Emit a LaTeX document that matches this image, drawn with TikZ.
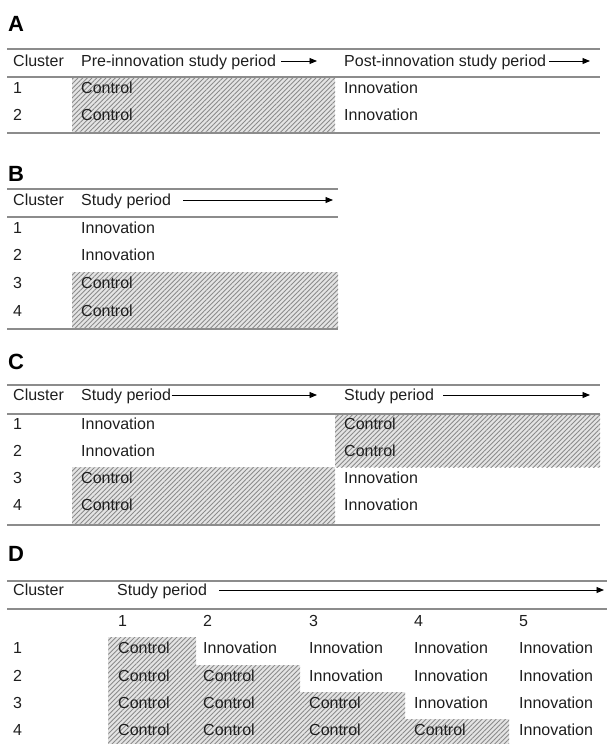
\documentclass[tikz,border=0pt]{standalone}
\usepackage{fontspec}
\setmainfont{Liberation Sans}
\usetikzlibrary{patterns.meta,arrows.meta}

\definecolor{rulegray}{HTML}{8C8C8C}
\definecolor{hatchbg}{HTML}{E4E4E4}
\definecolor{hatchline}{HTML}{8A8A8A}
\definecolor{ink}{HTML}{1E1E1E}

\tikzset{
  rulel/.style={draw=rulegray, line width=1.4pt},
  hatched/.style={preaction={fill=hatchbg},
    pattern={Lines[angle=45, distance=3.3pt, line width=0.9pt]},
    pattern color=hatchline},
  txt/.style={anchor=base west, inner sep=0pt, yshift=-5.6pt,
    font=\fontsize{16}{19}\selectfont, text=ink},
  paneltitle/.style={anchor=base west, inner sep=0pt, yshift=-7.8pt,
    font=\fontsize{22}{25}\selectfont\bfseries, text=black},
  timearrow/.style={draw=black, line width=0.9pt,
    -{Triangle[length=7.5pt, width=6pt]}}
}

\begin{document}
\begin{tikzpicture}[x=1pt, y=-1pt]
\useasboundingbox (0,0) rectangle (607,744);

% ---------------- Panel A: before/after design ----------------
\node[paneltitle] (tA) at (8,24) {A};
\path[hatched] (72,77) rectangle (335,133);
\draw[rulel] (7,49) -- (600,49);
\draw[rulel] (7,77) -- (600,77);
\draw[rulel] (7,133) -- (600,133);
\node[txt] (cA) at (13,61) {Cluster};
\node[txt] (preA) at (81,61) {Pre-innovation study period};
\node[txt] (postA) at (344,61) {Post-innovation study period};
\coordinate (sA1) at ([xshift=5pt]preA.east);
\coordinate (eA1) at (317,61);
\draw[timearrow] (sA1 |- eA1) -- (eA1);
\coordinate (sA2) at ([xshift=3pt]postA.east);
\coordinate (eA2) at (590,61);
\draw[timearrow] (sA2 |- eA2) -- (eA2);
\node[txt] (nA1) at (13,88) {1};
\node[txt] (nA2) at (13,115) {2};
\node[txt] (ctA1) at (81,88) {Control};
\node[txt] (ctA2) at (81,115) {Control};
\node[txt] (inA1) at (344,88) {Innovation};
\node[txt] (inA2) at (344,115) {Innovation};

% ---------------- Panel B: parallel groups ----------------
\node[paneltitle] (tB) at (8,174) {B};
\path[hatched] (72,272) rectangle (338,329);
\draw[rulel] (7,189) -- (338,189);
\draw[rulel] (7,217) -- (338,217);
\draw[rulel] (7,329) -- (338,329);
\node[txt] (cB) at (13,200) {Cluster};
\node[txt] (spB) at (81,200) {Study period};
\coordinate (sB) at ([xshift=12pt]spB.east);
\coordinate (eB) at (333,200);
\draw[timearrow] (sB |- eB) -- (eB);
\node[txt] (nB1) at (13,228) {1};
\node[txt] (nB2) at (13,255) {2};
\node[txt] (nB3) at (13,283) {3};
\node[txt] (nB4) at (13,311) {4};
\node[txt] (bB1) at (81,228) {Innovation};
\node[txt] (bB2) at (81,255) {Innovation};
\node[txt] (bB3) at (81,283) {Control};
\node[txt] (bB4) at (81,311) {Control};

% ---------------- Panel C: crossover ----------------
\node[paneltitle] (tC) at (8,362) {C};
\path[hatched] (72,467) rectangle (335,525);
\path[hatched] (335,414) rectangle (600,467);
\draw[rulel] (7,385) -- (600,385);
\draw[rulel] (7,414) -- (600,414);
\draw[rulel] (7,525) -- (600,525);
\node[txt] (cC) at (13,395) {Cluster};
\node[txt] (spC1) at (81,395) {Study period};
\node[txt] (spC2) at (344,395) {Study period};
\coordinate (sC1) at ([xshift=0.5pt]spC1.east);
\coordinate (eC1) at (317,395);
\draw[timearrow] (sC1 |- eC1) -- (eC1);
\coordinate (sC2) at ([xshift=9pt]spC2.east);
\coordinate (eC2) at (590,395);
\draw[timearrow] (sC2 |- eC2) -- (eC2);
\node[txt] (nC1) at (13,424) {1};
\node[txt] (nC2) at (13,451) {2};
\node[txt] (nC3) at (13,478) {3};
\node[txt] (nC4) at (13,505) {4};
\node[txt] (lC1) at (81,424) {Innovation};
\node[txt] (lC2) at (81,451) {Innovation};
\node[txt] (lC3) at (81,478) {Control};
\node[txt] (lC4) at (81,505) {Control};
\node[txt] (rC1) at (344,424) {Control};
\node[txt] (rC2) at (344,451) {Control};
\node[txt] (rC3) at (344,478) {Innovation};
\node[txt] (rC4) at (344,505) {Innovation};

% ---------------- Panel D: stepped wedge ----------------
\node[paneltitle] (tD) at (8,554) {D};
\path[hatched] (108,637) -- (196,637) -- (196,665) -- (300,665)
  -- (300,692) -- (405,692) -- (405,719) -- (509,719) -- (509,744)
  -- (108,744) -- cycle;
\draw[rulel] (7,581) -- (607,581);
\draw[rulel] (7,609) -- (607,609);
\node[txt] (cD) at (13,590) {Cluster};
\node[txt] (spD) at (117,590) {Study period};
\coordinate (sD) at ([xshift=12pt]spD.east);
\coordinate (eD) at (604,590);
\draw[timearrow] (sD |- eD) -- (eD);
% period numbers
\node[txt] (pD1) at (118,621) {1};
\node[txt] (pD2) at (203,621) {2};
\node[txt] (pD3) at (309,621) {3};
\node[txt] (pD4) at (414,621) {4};
\node[txt] (pD5) at (519,621) {5};
% cluster numbers
\node[txt] (nD1) at (13,648) {1};
\node[txt] (nD2) at (13,676) {2};
\node[txt] (nD3) at (13,703) {3};
\node[txt] (nD4) at (13,730) {4};
% row 1
\node[txt] (d11) at (118,648) {Control};
\node[txt] (d12) at (203,648) {Innovation};
\node[txt] (d13) at (309,648) {Innovation};
\node[txt] (d14) at (414,648) {Innovation};
\node[txt] (d15) at (519,648) {Innovation};
% row 2
\node[txt] (d21) at (118,676) {Control};
\node[txt] (d22) at (203,676) {Control};
\node[txt] (d23) at (309,676) {Innovation};
\node[txt] (d24) at (414,676) {Innovation};
\node[txt] (d25) at (519,676) {Innovation};
% row 3
\node[txt] (d31) at (118,703) {Control};
\node[txt] (d32) at (203,703) {Control};
\node[txt] (d33) at (309,703) {Control};
\node[txt] (d34) at (414,703) {Innovation};
\node[txt] (d35) at (519,703) {Innovation};
% row 4
\node[txt] (d41) at (118,730) {Control};
\node[txt] (d42) at (203,730) {Control};
\node[txt] (d43) at (309,730) {Control};
\node[txt] (d44) at (414,730) {Control};
\node[txt] (d45) at (519,730) {Innovation};
\end{tikzpicture}
\end{document}
